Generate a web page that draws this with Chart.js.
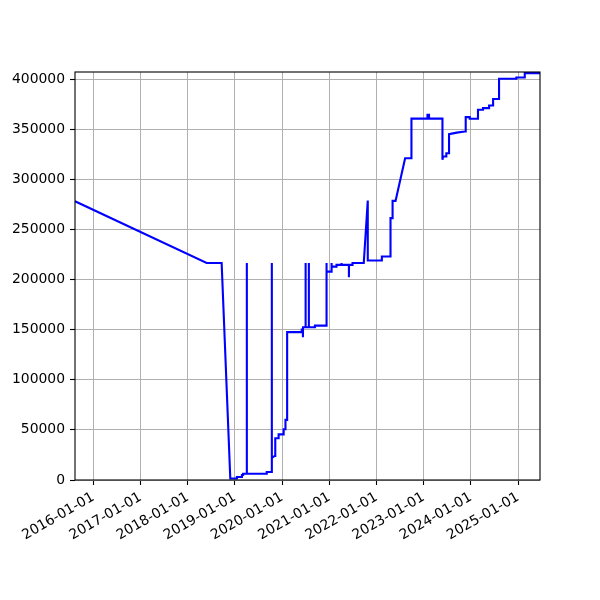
<!DOCTYPE html>
<html>
<head>
    <meta charset="utf-8" />
    <title>Values over time</title>
    <script src="https://cdn.jsdelivr.net/npm/chart.js@4.4.1/dist/chart.umd.min.js"></script>
    <style>
      body { margin: 0; background: #fff; }
      #wrap { width: 600px; height: 600px; }
    </style>
</head>
<body>
  <div id='wrap'>
    <canvas id='valueChart' width='600' height='600'></canvas>
  </div>
  <script>
    // steps are repeated dates
    const dates = [
      '2015-08-12', '2018-05-27', '2018-09-20', '2018-11-26', '2019-01-16', '2019-01-16',
      '2019-02-24', '2019-02-24', '2019-03-05', '2019-03-05', '2019-04-03', '2019-04-03',
      '2019-04-03', '2019-09-04', '2019-09-04', '2019-10-13', '2019-10-13', '2019-10-14',
      '2019-11-04', '2019-11-09', '2019-11-09', '2019-12-05', '2019-12-05', '2020-01-13',
      '2020-01-13', '2020-01-25', '2020-01-27', '2020-02-08', '2020-02-09', '2020-05-31',
      '2020-06-01', '2020-06-10', '2020-06-10', '2020-06-11', '2020-07-01', '2020-07-01',
      '2020-07-01', '2020-07-26', '2020-07-26', '2020-07-26', '2020-09-11', '2020-09-11',
      '2020-12-10', '2020-12-10', '2020-12-10', '2021-01-18', '2021-01-18', '2021-01-18',
      '2021-02-25', '2021-02-25', '2021-04-05', '2021-04-05', '2021-04-05', '2021-06-01',
      '2021-06-01', '2021-06-02', '2021-06-29', '2021-06-29', '2021-09-24', '2021-10-25',
      '2021-10-25', '2022-02-11', '2022-02-11', '2022-04-19', '2022-04-19', '2022-05-05',
      '2022-05-05', '2022-05-28', '2022-08-10', '2022-09-28', '2022-09-28', '2023-01-30',
      '2023-01-30', '2023-02-11', '2023-02-11', '2023-05-26', '2023-05-26', '2023-05-31',
      '2023-06-25', '2023-06-25', '2023-07-16', '2023-07-16', '2023-09-14', '2023-11-15',
      '2023-11-22', '2023-11-22', '2023-12-23', '2023-12-23', '2024-02-25', '2024-02-25',
      '2024-04-04', '2024-04-04', '2024-05-21', '2024-05-21', '2024-06-21', '2024-06-21',
      '2024-08-06', '2024-08-06', '2024-12-18', '2024-12-18', '2025-02-21', '2025-02-21',
      '2025-06-19'
    ];
    const values = [
      278000, 216500, 216500, 1500, 1500, 3000,
      3000, 5000, 5000, 6300, 6300, 216500,
      6300, 6300, 8000, 8000, 216500, 22000,
      24000, 24000, 41600, 41600, 45500, 45500,
      50600, 50600, 60000, 60000, 147500, 147500,
      150000, 150000, 142400, 152400, 152400, 216500,
      152400, 152400, 216500, 152400, 152400, 154000,
      154000, 216500, 207900, 207900, 216500, 212900,
      212900, 214600, 214600, 216500, 214600, 214600,
      202300, 214600, 214600, 216500, 216500, 278800,
      218900, 218900, 222900, 222900, 261200, 261200,
      278400, 278400, 321000, 321000, 360500, 360500,
      364300, 364300, 360500, 360500, 319400, 322700,
      322700, 326000, 326000, 345000, 346500, 347600,
      347600, 362000, 362000, 360300, 360300, 369300,
      369300, 371000, 371000, 373600, 373600, 380000,
      380000, 400200, 400200, 401500, 401500, 405900,
      405900
    ];
    const xTickLabels = ['2016-01-01', '2017-01-01', '2018-01-01', '2019-01-01', '2020-01-01',
      '2021-01-01', '2022-01-01', '2023-01-01', '2024-01-01', '2025-01-01'];
    const xRange = ['2015-08-12', '2025-06-19'];
    const yTicks = [0, 50000, 100000, 150000, 200000, 250000, 300000, 350000, 400000];
    const yMax = 407000;

    const ms = d => new Date(d).getTime();
    const xTickValues = xTickLabels.map(ms);
    const points = dates.map((d, i) => ({ x: ms(d), y: values[i] }));

    Chart.defaults.font.family = 'DejaVu Sans';
    Chart.defaults.font.size = 13.9;
    Chart.defaults.color = '#000';

    const frame = {
      id: 'frame',
      afterDatasetsDraw(chart) {
        const a = chart.chartArea, c = chart.ctx;
        c.save();
        c.strokeStyle = '#000';
        c.lineWidth = 1.1;
        c.strokeRect(a.left, a.top, a.right - a.left, a.bottom - a.top);
        c.restore();
      }
    };

    new Chart(document.getElementById('valueChart'), {
      type: 'line',
      data: {
        datasets: [{
          data: points,
          borderColor: '#0000ff',
          borderWidth: 2.1,
          pointRadius: 0,
          tension: 0,
          fill: false
        }]
      },
      options: {
        responsive: false,
        animation: false,
        layout: { padding: { left: 0, top: 72, right: 60, bottom: 0 } },
        plugins: { legend: { display: false }, tooltip: { enabled: false } },
        scales: {
          x: {
            type: 'linear',
            min: ms(xRange[0]),
            max: ms(xRange[1]),
            afterBuildTicks: s => { s.ticks = xTickValues.map(v => ({ value: v })); },
            afterFit: s => { s.height = 120; },
            border: { display: false },
            grid: { color: '#b0b0b0', lineWidth: 1, tickColor: '#000', tickWidth: 1.1, tickLength: 5 },
            ticks: {
              autoSkip: false,
              maxRotation: 30,
              minRotation: 30,
              padding: 4,
              callback: v => new Date(v).toISOString().slice(0, 10)
            }
          },
          y: {
            min: 0,
            max: yMax,
            afterBuildTicks: s => { s.ticks = yTicks.map(v => ({ value: v })); },
            afterFit: s => { s.width = 75; },
            border: { display: false },
            grid: { color: '#b0b0b0', lineWidth: 1, tickColor: '#000', tickWidth: 1.1, tickLength: 5 },
            ticks: { padding: 5, callback: v => String(v) }
          }
        }
      },
      plugins: [frame]
    });
  </script>
</body>
</html>
